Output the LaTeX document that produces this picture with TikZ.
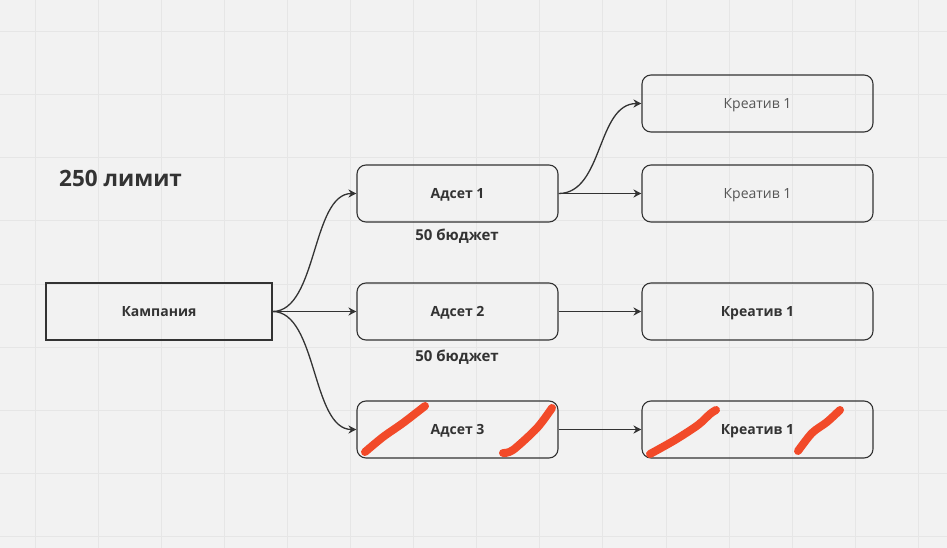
\documentclass[tikz,border=0pt]{standalone}
\usepackage{fontspec}
\setmainfont{Open Sans}
\usetikzlibrary{arrows.meta}
\definecolor{bgc}{HTML}{F2F2F2}
\definecolor{gridc}{HTML}{E6E6E6}
\definecolor{ink}{HTML}{333333}
\definecolor{soft}{HTML}{555555}
\definecolor{marker}{HTML}{F24A29}
\tikzset{
  box/.style={draw=ink, line width=1.1pt, minimum height=57pt, inner sep=0pt, text height=10pt, text depth=0pt, text=ink, font=\fontsize{14}{16}\selectfont\bfseries},
  adbox/.style={box, rounded corners=9pt, minimum width=201pt},
  crbox/.style={box, rounded corners=9pt, minimum width=231pt},
  crsoft/.style={crbox, text=soft, font=\fontsize{14}{16}\selectfont},
  conn/.style={draw=ink, line width=1.3pt, -{Stealth[length=8pt,width=8pt]}},
  lbl/.style={text=ink, font=\fontsize{15}{17}\selectfont\bfseries, inner sep=0pt, text height=10.5pt, text depth=0pt},
  scribble/.style={draw=marker, line width=8pt, line cap=round, line join=round}
}
\begin{document}
\begin{tikzpicture}[x=1pt,y=-1pt]
\fill[bgc] (0,0) rectangle (947,548);
\useasboundingbox (0,0) rectangle (947,548);
\foreach \i in {0,...,14} \draw[gridc, line width=1pt] ({35+63.1*\i},0) -- ({35+63.1*\i},548);
\foreach \i in {0,...,8} \draw[gridc, line width=1pt] (0,{31.6+63.1*\i}) -- (947,{31.6+63.1*\i});

\node[text=ink, font=\fontsize{22.5}{26}\selectfont\bfseries, inner sep=0pt, text height=16pt, text depth=0pt, anchor=west] (limit) at (59,178.5) {250 лимит};

\node[box, minimum width=226pt] (camp) at (159,311.5) {Кампания};
\node[adbox] (a1) at (457.5,193.5) {Адсет 1};
\node[adbox] (a2) at (457.5,311.5) {Адсет 2};
\node[adbox] (a3) at (457.5,429.5) {Адсет 3};
\node[lbl] (b1) at (457,235.5) {50 бюджет};
\node[lbl] (b2) at (457,356.5) {50 бюджет};

\node[crsoft] (k0) at (757.5,103.5) {Креатив 1};
\node[crsoft] (k1) at (757.5,193.5) {Креатив 1};
\node[crbox] (k2) at (757.5,311.5) {Креатив 1};
\node[crbox] (k3) at (757.5,429.5) {Креатив 1};

\draw[conn] (camp.east) .. controls +(45,0) and +(-45,0) .. (a1.west);
\draw[conn] (camp.east) -- (a2.west);
\draw[conn] (camp.east) .. controls +(45,0) and +(-45,0) .. (a3.west);
\draw[conn] (a1.east) .. controls +(45,0) and +(-45,0) .. (k0.west);
\draw[conn] (a1.east) -- (k1.west);
\draw[conn] (a2.east) -- (k2.west);
\draw[conn] (a3.east) -- (k3.west);

\draw[scribble] plot[smooth] coordinates {(365,452) (383,437) (403,423) (425,406)};
\draw[scribble] plot[smooth] coordinates {(503,453) (513,450) (537,428) (552,408)};
\draw[scribble] plot[smooth] coordinates {(650,454) (675,440) (698,425) (710,414) (716,410)};
\draw[scribble] plot[smooth] coordinates {(798,451) (812,433) (827,422) (840,410)};
\end{tikzpicture}
\end{document}
